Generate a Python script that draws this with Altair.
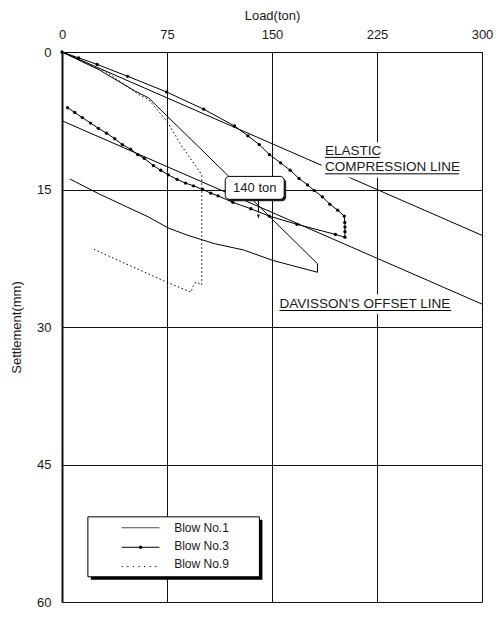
import altair as alt
import pandas as pd

# ---------------- data ----------------
load_ticks = [0, 75, 150, 225, 300]
settle_ticks = [0, 15, 30, 45, 60]

blow1_load = [0, 26.7, 52.5, 61.8, 118.0, 182.5, 182.5, 150.8, 129.8, 108.7, 89.9, 75.9, 61.8, 26.7, 5.6]
blow1_settle = [0, 1.96, 4.29, 5.0, 13.4, 23.1, 24.03, 22.75, 21.6, 20.9, 20.0, 19.2, 18.0, 15.5, 13.85]

blow3_load = [0, 11.9, 25.1, 46.9, 74.7, 101.2, 123.2, 132.8, 140.9, 148.2, 156.2, 163.0, 169.3,
              175.4, 180.1, 186.0, 191.3, 196.9, 201.6, 202.0, 202.1, 202.1, 202.1, 195.3, 167.9,
              148.0, 134.9, 122.0, 111.5, 106.3, 100.5, 93.9, 88.2, 82.2, 75.9, 70.5, 65.3, 58.8,
              54.1, 49.0, 43.1, 37.7, 31.8, 26.0, 20.4, 14.5, 9.1, 4.0]
blow3_settle = [0, 0.64, 1.36, 2.65, 4.36, 6.24, 8.07, 9.14, 10.1, 11.2, 12.1, 12.9, 13.8,
                14.5, 15.1, 15.8, 16.6, 17.25, 17.9, 18.6, 19.1, 19.6, 20.2, 19.9, 18.8,
                17.9, 17.1, 16.4, 15.7, 15.4, 15.0, 14.6, 14.3, 13.9, 13.4, 12.9, 12.4, 11.6,
                11.2, 10.6, 10.1, 9.46, 8.86, 8.33, 7.75, 7.15, 6.6, 6.07]

blow9_load = [0, 31.4, 54.8, 61.8, 74.7, 85.2, 98.2, 99.8, 99.8, 95.8, 93.4, 92.2, 74.7, 20.9]
blow9_settle = [0, 2.14, 4.64, 5.18, 7.5, 10.18, 13.04, 13.4, 25.4, 25.1, 25.6, 26.2, 25.1, 21.4]

elastic_load = [0, 300]
elastic_settle = [0, 20]
davisson_load = [0, 300]
davisson_settle = [7.5, 27.5]

# labels (text, load, settlement of baseline)
label_text = ["ELASTIC", "COMPRESSION LINE", "DAVISSON'S OFFSET LINE"]
label_load = [187.8, 187.8, 155.3]
label_settle = [11.25, 12.96, 27.96]
underline_load = [187.8, 187.8, 155.3]
underline_load2 = [227.0, 283.6, 278.0]
underline_settle = [11.5, 13.29, 28.2]
label_bg_load = [185.5, 153.2]
label_bg_load2 = [285.3, 279.6]
label_bg_settle = [9.86, 26.43]
label_bg_settle2 = [13.7, 28.6]

# "140 ton" callout
callout_text = ["140 ton"]
callout_load = [137.7]
callout_settle = [14.82]
callout_box_load = [116.6, 158.7]
callout_box_settle = [13.57, 16.07]
arrow_load = [140.3]
arrow_settle = [16.07, 17.5]
arrow_head_settle = [17.95]

# legend
legend_labels = ["Blow No.1", "Blow No.3", "Blow No.9"]
legend_box_load = [18.5, 141.0]
legend_box_settle = [50.71, 57.25]
legend_line_load = [42.6, 69.6]
legend_line_settle = [51.9, 54.03, 56.14]
legend_text_load = [80.1]
legend_text_settle = [51.93, 53.93, 55.85]

# ---------------- helpers ----------------
FONT = "Liberation Sans"
TXT = "#1a1a1a"

xscale = alt.Scale(domain=[0, 300], nice=False, zero=False)
yscale = alt.Scale(domain=[0, 60], reverse=True, nice=False, zero=False)

xaxis = alt.Axis(orient="top", values=load_ticks, title="Load(ton)", ticks=False,
                 labelPadding=11, labelFontSize=13, labelFont=FONT, labelColor=TXT,
                 titleFont=FONT, titleFontSize=13, titleFontWeight="normal", titleColor=TXT,
                 titleY=-33, titleBaseline="alphabetic",
                 grid=True, gridColor="#111", gridWidth=1, gridOpacity=1,
                 domainColor="#111", domainWidth=1, labelFlush=False)
yaxis = alt.Axis(orient="left", values=settle_ticks, title="Settlement(mm)", ticks=False,
                 labelPadding=11, labelFontSize=13, labelFont=FONT, labelColor=TXT,
                 titleFont=FONT, titleFontSize=13, titleFontWeight="normal", titleColor=TXT,
                 titleAngle=270, titleX=-46, titleY=275, titleAlign="center",
                 titleBaseline="middle",
                 grid=True, gridColor="#111", gridWidth=1, gridOpacity=1,
                 domainColor="#111", domainWidth=2, labelFlush=False)


def X(field="load"):
    return alt.X(f"{field}:Q", scale=xscale, axis=xaxis)


def Y(field="settle"):
    return alt.Y(f"{field}:Q", scale=yscale, axis=yaxis)


def path_df(loads, settles):
    return pd.DataFrame({"load": loads, "settle": settles, "i": list(range(len(loads)))})


def line_layer(loads, settles, **kw):
    return alt.Chart(path_df(loads, settles)).mark_line(color="black", strokeWidth=1, **kw).encode(
        x=X(), y=Y(), order="i:Q")


# ---------------- layers ----------------
elastic = line_layer(elastic_load, elastic_settle)
davisson = line_layer(davisson_load, davisson_settle)
blow1 = line_layer(blow1_load, blow1_settle)
blow9 = line_layer(blow9_load, blow9_settle, strokeDash=[1.5, 2.5])
blow3 = line_layer(blow3_load, blow3_settle)
blow3_pts = alt.Chart(path_df(blow3_load, blow3_settle)).mark_point(
    filled=True, color="black", size=11, opacity=1).encode(x=X(), y=Y())

# label backgrounds (white) covering grid/lines
bg_df = pd.DataFrame({"load": label_bg_load, "load2": label_bg_load2,
                      "settle": label_bg_settle, "settle2": label_bg_settle2})
label_bg = alt.Chart(bg_df).mark_rect(fill="white").encode(
    x=X(), x2="load2:Q", y=Y(), y2="settle2:Q")

lab_df = pd.DataFrame({"text": label_text, "load": label_load, "settle": label_settle})
labels = alt.Chart(lab_df).mark_text(align="left", baseline="alphabetic", fontSize=13.5,
                                     font=FONT, color=TXT).encode(x=X(), y=Y(), text="text:N")
ul_df = pd.DataFrame({"load": underline_load, "load2": underline_load2, "settle": underline_settle})
underlines = alt.Chart(ul_df).mark_rule(color="black", strokeWidth=1).encode(
    x=X(), x2="load2:Q", y=Y())

# callout
cb_df = pd.DataFrame({"load": [callout_box_load[0]], "load2": [callout_box_load[1]],
                      "settle": [callout_box_settle[0]], "settle2": [callout_box_settle[1]]})
callout_shadow = alt.Chart(cb_df).mark_rect(fill="#222", cornerRadius=4, xOffset=2, x2Offset=2,
                                            yOffset=2, y2Offset=2).encode(
    x=X(), x2="load2:Q", y=Y(), y2="settle2:Q")
callout_box = alt.Chart(cb_df).mark_rect(fill="white", stroke="black", strokeWidth=1,
                                         cornerRadius=4).encode(
    x=X(), x2="load2:Q", y=Y(), y2="settle2:Q")
callout_txt = alt.Chart(pd.DataFrame({"text": callout_text, "load": callout_load,
                                      "settle": callout_settle})).mark_text(
    align="center", baseline="middle", fontSize=13, font=FONT, color=TXT).encode(
    x=X(), y=Y(), text="text:N")
arrow_df = pd.DataFrame({"load": arrow_load, "settle": [arrow_settle[0]], "settle2": [arrow_settle[1]]})
arrow = alt.Chart(arrow_df).mark_rule(color="black", strokeWidth=1).encode(
    x=X(), y=Y(), y2="settle2:Q")
arrow_head = alt.Chart(pd.DataFrame({"load": arrow_load, "settle": arrow_head_settle})).mark_point(
    shape="M-0.33,-0.5L0.33,-0.5L0,0.5Z", filled=True, color="black", size=70, opacity=1).encode(
    x=X(), y=Y())

# legend
lb_df = pd.DataFrame({"load": [legend_box_load[0]], "load2": [legend_box_load[1]],
                      "settle": [legend_box_settle[0]], "settle2": [legend_box_settle[1]]})
legend_shadow = alt.Chart(lb_df).mark_rect(fill="black", xOffset=3, x2Offset=3,
                                           yOffset=3, y2Offset=3).encode(
    x=X(), x2="load2:Q", y=Y(), y2="settle2:Q")
legend_box = alt.Chart(lb_df).mark_rect(fill="white", stroke="black", strokeWidth=1).encode(
    x=X(), x2="load2:Q", y=Y(), y2="settle2:Q")


def legend_line(row, **kw):
    d = pd.DataFrame({"load": [legend_line_load[0]], "load2": [legend_line_load[1]],
                      "settle": [legend_line_settle[row]]})
    return alt.Chart(d).mark_rule(color="black", strokeWidth=1, **kw).encode(
        x=X(), x2="load2:Q", y=Y())


leg1 = legend_line(0, opacity=0.7)
leg3 = legend_line(1)
leg9 = legend_line(2, strokeDash=[1.2, 4.4])
leg3_dot = alt.Chart(pd.DataFrame({"load": [(legend_line_load[0] + legend_line_load[1]) / 2],
                                   "settle": [legend_line_settle[1]]})).mark_point(
    filled=True, color="black", size=11, opacity=1).encode(x=X(), y=Y())
leg_text = alt.Chart(pd.DataFrame({"text": legend_labels, "load": legend_text_load * 3,
                                   "settle": legend_text_settle})).mark_text(
    align="left", baseline="middle", fontSize=12, font=FONT, color=TXT).encode(
    x=X(), y=Y(), text="text:N")

chart = alt.layer(
    elastic, davisson, blow1, blow9, blow3, blow3_pts,
    label_bg, labels, underlines,
    callout_shadow, callout_box, callout_txt, arrow, arrow_head,
    legend_shadow, legend_box, leg1, leg3, leg9, leg3_dot, leg_text,
).properties(
    width=420, height=550,
    autosize=alt.AutoSizeParams(type="none"),
    padding={"left": 54, "top": 44, "right": 12, "bottom": 6},
).configure_view(stroke="#111", strokeWidth=1).configure(background="white")

chart.save("out.html", embed_options={"renderer": "svg", "actions": False})
